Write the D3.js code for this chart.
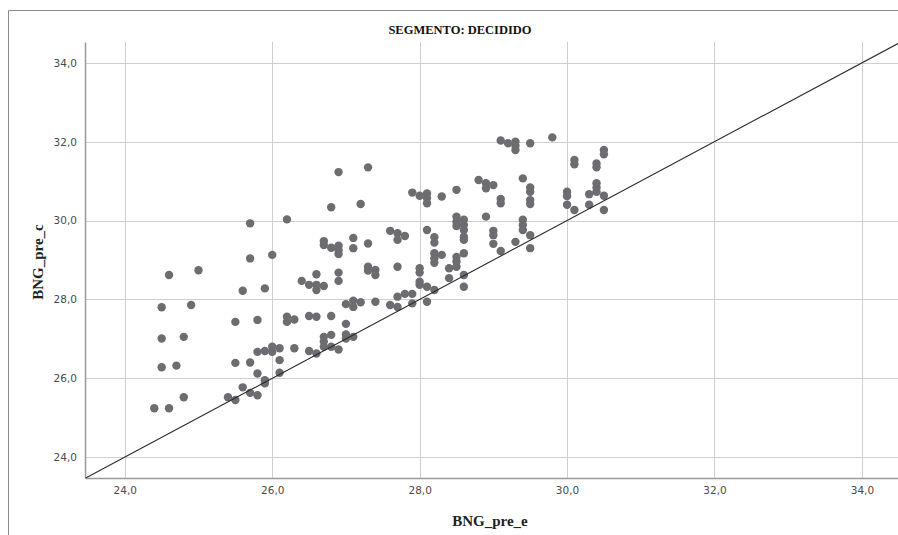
<!DOCTYPE html>
<html>
<head>
<meta charset="utf-8">
<script src="https://cdn.jsdelivr.net/npm/d3@7"></script>
<style>
  html, body { margin: 0; padding: 0; background: #fff; }
  svg { display: block; }
</style>
</head>
<body>
<svg id="chart" width="898" height="535"></svg>
<script>
// ---- Data ----
const chartTitle = "SEGMENTO: DECIDIDO";
const xLabel = "BNG_pre_e";
const yLabel = "BNG_pre_c";
const xTicks = [24, 26, 28, 30, 32, 34];
const yTicks = [24, 26, 28, 30, 32, 34];

const bngPreE = [
  24.4,
  24.5, 24.5, 24.5,
  24.6, 24.6,
  24.7,
  24.8, 24.8,
  24.9,
  25.0,
  25.4,
  25.5, 25.5, 25.5,
  25.6, 25.6,
  25.7, 25.7, 25.7, 25.7,
  25.8, 25.8, 25.8, 25.8,
  25.9, 25.9, 25.9, 25.9,
  26.0, 26.0, 26.0,
  26.1, 26.1, 26.1,
  26.2, 26.2, 26.2,
  26.3, 26.3,
  26.4,
  26.5, 26.5, 26.5,
  26.6, 26.6, 26.6, 26.6, 26.6,
  26.7, 26.7, 26.7, 26.7, 26.7, 26.7,
  26.8, 26.8, 26.8, 26.8, 26.8,
  26.9, 26.9, 26.9, 26.9, 26.9, 26.9, 26.9,
  27.0, 27.0, 27.0, 27.0,
  27.1, 27.1, 27.1, 27.1, 27.1,
  27.2, 27.2,
  27.3, 27.3, 27.3, 27.3,
  27.4, 27.4, 27.4,
  27.6, 27.6,
  27.7, 27.7, 27.7, 27.7, 27.7,
  27.8, 27.8,
  27.9, 27.9, 27.9,
  28.0, 28.0, 28.0, 28.0, 28.0,
  28.1, 28.1, 28.1, 28.1, 28.1, 28.1,
  28.2, 28.2, 28.2, 28.2, 28.2, 28.2,
  28.3, 28.3,
  28.4, 28.4,
  28.5, 28.5, 28.5, 28.5, 28.5, 28.5, 28.5,
  28.6, 28.6, 28.6, 28.6, 28.6, 28.6, 28.6, 28.6,
  28.8,
  28.9, 28.9, 28.9,
  29.0, 29.0, 29.0, 29.0,
  29.1, 29.1, 29.1, 29.1,
  29.2,
  29.3, 29.3, 29.3, 29.3,
  29.4, 29.4, 29.4, 29.4,
  29.5, 29.5, 29.5, 29.5, 29.5, 29.5, 29.5,
  29.8,
  30.0, 30.0, 30.0,
  30.1, 30.1, 30.1,
  30.3, 30.3,
  30.4, 30.4, 30.4, 30.4, 30.4,
  30.5, 30.5, 30.5, 30.5
];

const bngPreC = [
  25.24,
  26.28, 27.01, 27.80,
  25.24, 28.62,
  26.32,
  25.52, 27.05,
  27.86,
  28.74,
  25.52,
  25.45, 26.39, 27.43,
  25.77, 28.22,
  29.93, 29.04, 26.40, 25.63,
  27.48, 26.67, 26.12, 25.57,
  28.28, 26.69, 25.95, 25.87,
  29.13, 26.80, 26.67,
  26.76, 26.46, 26.14,
  30.03, 27.56, 27.43,
  27.49, 26.76,
  28.47,
  28.37, 27.58, 26.69,
  28.64, 28.37, 28.24, 27.56, 26.63,
  29.48, 29.38, 28.34, 27.05, 26.93, 26.80,
  30.34, 29.31, 27.58, 27.10, 26.80,
  31.23, 29.36, 29.25, 29.15, 28.68, 28.47, 26.73,
  27.88, 27.38, 27.11, 27.01,
  29.56, 29.30, 27.97, 27.81, 27.05,
  30.42, 27.93,
  31.35, 29.42, 28.83, 28.73,
  28.75, 28.62, 27.94,
  29.74, 27.86,
  29.68, 29.51, 28.83, 28.07, 27.81,
  29.61, 28.14,
  30.71, 28.14, 27.90,
  30.63, 28.79, 28.68, 28.45, 28.37,
  30.69, 30.57, 30.44, 29.76, 28.32, 27.94,
  29.58, 29.44, 29.17, 29.04, 28.93, 28.24,
  30.61, 29.13,
  28.79, 28.54,
  30.78, 30.10, 29.97, 29.86, 29.08, 28.96, 28.83,
  30.02, 29.89, 29.76, 29.59, 29.51, 29.17, 28.62, 28.32,
  31.03,
  30.95, 30.82, 30.10,
  30.90, 29.74, 29.63, 29.41,
  32.03, 30.55, 30.44, 29.23,
  31.96,
  32.00, 31.90, 31.79, 29.46,
  31.07, 30.02, 29.89, 29.76,
  31.96, 30.84, 30.73, 30.52, 30.42, 29.63, 29.30,
  32.11,
  30.73, 30.62, 30.40,
  31.54, 31.43, 30.27,
  30.67, 30.40,
  31.45, 31.35, 30.95, 30.84, 30.73,
  31.79, 31.68, 30.63, 30.27
];

// ---- Layout ----
const svg = d3.select("#chart");
const W = 898, H = 535;
const plot = { left: 85, top: 42, right: 898, bottom: 478 };

const x = d3.scaleLinear().domain([23.46, 34.49]).range([plot.left, plot.right]);
const y = d3.scaleLinear().domain([23.47, 34.53]).range([plot.bottom, plot.top]);
const fmt = d => d3.format(".1f")(d).replace(".", ",");

// outer frame
svg.append("path")
  .attr("d", `M8.5,${H} L8.5,10.5 L${W},10.5`)
  .attr("fill", "none").attr("stroke", "#8a8a8a").attr("stroke-width", 1);

// clip
svg.append("defs").append("clipPath").attr("id", "plotclip")
  .append("rect")
  .attr("x", plot.left).attr("y", plot.top)
  .attr("width", plot.right - plot.left).attr("height", plot.bottom - plot.top);

// gridlines
const grid = svg.append("g");
grid.selectAll("line.vx").data(xTicks).join("line")
  .attr("x1", d => Math.round(x(d)) + 0.5).attr("x2", d => Math.round(x(d)) + 0.5)
  .attr("y1", plot.top).attr("y2", plot.bottom)
  .attr("stroke", "#cfcfcf").attr("stroke-width", 1);
grid.selectAll("line.hy").data(yTicks).join("line")
  .attr("y1", d => Math.round(y(d)) + 0.5).attr("y2", d => Math.round(y(d)) + 0.5)
  .attr("x1", plot.left).attr("x2", plot.right)
  .attr("stroke", "#cfcfcf").attr("stroke-width", 1);

// axes (D3 axes, domain lines restyled)
const xAxis = svg.append("g")
  .attr("transform", `translate(0,${plot.bottom})`)
  .call(d3.axisBottom(x).tickValues(xTicks).tickFormat(fmt).tickSize(0).tickPadding(9));
const yAxis = svg.append("g")
  .attr("transform", `translate(${plot.left},0)`)
  .call(d3.axisLeft(y).tickValues(yTicks).tickFormat(fmt).tickSize(0).tickPadding(8));
[xAxis, yAxis].forEach(g => {
  g.select(".domain").attr("stroke", "#9a9a9a").attr("stroke-width", 1.5);
  g.selectAll("text")
    .attr("font-family", "'DejaVu Sans', sans-serif")
    .attr("font-size", "10.5px")
    .attr("fill", "#4a4a4a");
});

// points
const pts = d3.range(bngPreE.length).map(i => ({ e: bngPreE[i], c: bngPreC[i] }));
svg.append("g").attr("clip-path", "url(#plotclip)")
  .selectAll("circle").data(pts).join("circle")
  .attr("cx", d => x(d.e)).attr("cy", d => y(d.c))
  .attr("r", 4.2)
  .attr("fill", "#6c6c71");

// reference line y = x
const lo = Math.max(x.domain()[0], y.domain()[0]);
const hi = Math.min(x.domain()[1], y.domain()[1]);
svg.append("line").attr("clip-path", "url(#plotclip)")
  .attr("x1", x(lo)).attr("y1", y(lo))
  .attr("x2", x(hi)).attr("y2", y(hi))
  .attr("stroke", "#2a2a2a").attr("stroke-width", 1.1);

// title
svg.append("text")
  .attr("x", 460).attr("y", 34)
  .attr("text-anchor", "middle")
  .attr("font-family", "'Liberation Serif', 'Times New Roman', serif")
  .attr("font-weight", "bold")
  .attr("font-size", "12.5px")
  .attr("fill", "#111")
  .text(chartTitle);

// axis titles
svg.append("text")
  .attr("x", 490).attr("y", 526)
  .attr("text-anchor", "middle")
  .attr("font-family", "'Liberation Serif', 'Times New Roman', serif")
  .attr("font-weight", "bold")
  .attr("font-size", "15px")
  .attr("fill", "#222")
  .text(xLabel);

svg.append("text")
  .attr("transform", "translate(43,262) rotate(-90)")
  .attr("text-anchor", "middle")
  .attr("font-family", "'Liberation Serif', 'Times New Roman', serif")
  .attr("font-weight", "bold")
  .attr("font-size", "15px")
  .attr("fill", "#222")
  .text(yLabel);
</script>
</body>
</html>
